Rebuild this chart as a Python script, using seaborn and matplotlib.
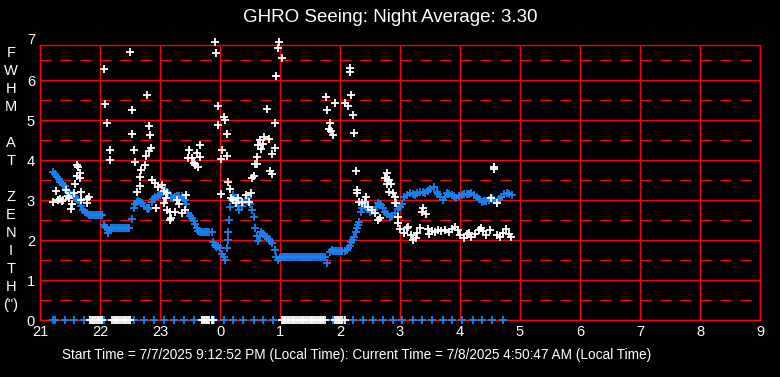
import numpy as np
import matplotlib
matplotlib.use('Agg')
import matplotlib.pyplot as plt
import seaborn as sns

# ──────────────────────────────────────────────
# Data (time = hours after 21:00 local, values = FWHM arcsec)
# ──────────────────────────────────────────────
TITLE = "GHRO Seeing: Night Average: 3.30"
FOOTER = ("Start Time = 7/7/2025 9:12:52 PM (Local Time): "
          "Current Time = 7/8/2025 4:50:47 AM (Local Time)")
hour_labels = ["21", "22", "23", "0", "1", "2", "3", "4", "5", "6", "7", "8", "9"]
ylabel_letters = ["F", "W", "H", "M", "", "A", "T", "", "Z", "E", "N", "I", "T", "H", '(")']

# running average (blue)
avg_t = [0.22, 0.25, 0.28, 0.31, 0.33, 0.36, 0.39, 0.42, 0.44, 0.47, 0.50, 0.53, 0.56, 0.58,
         0.61, 0.64, 0.67, 0.69, 0.72, 0.75, 0.78, 0.81,
         0.83, 0.86, 0.89, 0.92, 0.95, 0.98, 1.01, 1.03,
         1.06, 1.09, 1.11, 1.14, 1.17, 1.19,
         1.22, 1.25, 1.28, 1.31, 1.34, 1.37, 1.40, 1.43, 1.46, 1.49,
         1.53, 1.56, 1.58, 1.61, 1.64, 1.67, 1.70, 1.74, 1.78, 1.80, 1.82, 1.86, 1.89, 1.92,
         1.96, 2.00, 2.04, 2.08, 2.11, 2.14, 2.19, 2.22, 2.25, 2.28, 2.32, 2.36, 2.39, 2.42,
         2.44, 2.47, 2.50, 2.53, 2.56, 2.58, 2.61, 2.64,
         2.67, 2.70, 2.73, 2.76, 2.79, 2.82, 2.86,
         2.89, 2.92, 2.94, 2.97, 3.00, 3.03, 3.06, 3.08, 3.11, 3.13, 3.14, 3.15, 3.17, 3.20,
         3.22, 3.25, 3.28, 3.30, 3.32, 3.36, 3.39, 3.43, 3.47, 3.50, 3.53, 3.57, 3.58, 3.61,
         3.64, 3.67, 3.69, 3.72, 3.75, 3.78, 3.81, 3.83, 3.86, 3.91, 3.94, 3.97, 4.00,
         4.03, 4.06, 4.09, 4.12, 4.15, 4.18, 4.21, 4.24, 4.27, 4.30, 4.33, 4.36, 4.39,
         4.42, 4.45, 4.48, 4.51, 4.54, 4.57, 4.60, 4.63, 4.66, 4.69, 4.72, 4.75,
         4.78, 4.83, 4.86, 4.89, 4.92, 4.95, 4.98, 5.01, 5.04, 5.08,
         5.11, 5.14, 5.17, 5.19, 5.22, 5.24, 5.26, 5.28, 5.30, 5.32, 5.35, 5.37, 5.39, 5.42,
         5.44, 5.47, 5.50, 5.53, 5.57, 5.60, 5.64, 5.67, 5.69, 5.72, 5.75, 5.79, 5.83, 5.87,
         5.92, 5.96, 6.00, 6.03, 6.06, 6.11, 6.17, 6.21, 6.25, 6.29, 6.33, 6.38, 6.42, 6.46,
         6.50, 6.56, 6.61, 6.64, 6.67, 6.72, 6.75, 6.78, 6.82, 6.86, 6.90, 6.94, 6.98, 7.03,
         7.07, 7.11, 7.15, 7.19, 7.24, 7.28, 7.32, 7.36, 7.40, 7.44, 7.48, 7.53, 7.57, 7.61,
         7.65, 7.69, 7.74, 7.78, 7.82, 7.86]
avg_v = [3.71, 3.65, 3.58, 3.52, 3.46, 3.42, 3.38, 3.35, 3.25, 3.20, 3.15, 3.12, 3.08, 3.04,
         3.02, 3.00, 2.96, 2.85, 2.75, 2.70, 2.67, 2.63,
         2.62, 2.62, 2.62, 2.62, 2.62, 2.62, 2.62, 2.62,
         2.38, 2.33, 2.29, 2.18, 2.25, 2.29,
         2.29, 2.29, 2.29, 2.29, 2.29, 2.29, 2.29, 2.29, 2.29, 2.29,
         2.52, 2.79, 2.90, 2.96, 2.97, 2.96, 2.92, 2.85, 2.79, 2.77, 2.79, 2.96, 3.02, 3.08,
         3.10, 3.12, 3.19, 3.25, 3.21, 3.17, 3.04, 3.06, 3.08, 3.10, 3.11, 3.10, 3.05, 3.00,
         2.90, 2.68, 2.60, 2.55, 2.47, 2.40, 2.30, 2.22,
         2.20, 2.20, 2.20, 2.20, 2.20, 2.20, 2.20,
         1.96, 1.88, 1.83, 1.86, 1.80, 1.65, 1.58, 1.50, 1.79, 2.00, 2.21, 2.50, 2.83, 3.00,
         3.12, 3.05, 3.00, 2.85, 2.75, 2.85, 2.92, 3.00, 3.04, 2.90, 2.75, 2.57, 2.29, 2.10,
         1.98, 2.10, 2.19, 2.15, 2.10, 2.08, 2.03, 1.98, 1.92, 1.75, 1.58, 1.50, 1.55,
         1.57, 1.57, 1.57, 1.57, 1.57, 1.57, 1.57, 1.57, 1.57, 1.57, 1.57, 1.57, 1.57,
         1.57, 1.57, 1.57, 1.57, 1.57, 1.57, 1.57, 1.57, 1.57, 1.57, 1.57, 1.57,
         1.43, 1.71, 1.75, 1.72, 1.72, 1.72, 1.72, 1.72, 1.72, 1.72,
         1.76, 1.79, 1.86, 1.95, 2.00, 2.08, 2.20, 2.29, 2.38, 2.46, 2.71, 2.80, 2.87, 2.86,
         2.83, 2.77, 2.71, 2.72, 2.75, 2.83, 2.93, 2.90, 2.87, 2.80, 2.71, 2.64, 2.58, 2.60,
         2.68, 2.77, 2.83, 2.90, 3.08, 3.12, 3.17, 3.15, 3.12, 3.17, 3.21, 3.19, 3.17, 3.22,
         3.27, 3.33, 3.21, 3.14, 3.08, 3.00, 3.08, 3.17, 3.15, 3.12, 3.10, 3.06, 3.10, 3.12,
         3.14, 3.15, 3.16, 3.18, 3.12, 3.08, 3.02, 2.96, 2.97, 2.98, 3.00, 3.02, 3.00, 2.96,
         3.02, 3.08, 3.14, 3.17, 3.15, 3.12]

# individual readings (white)
raw_t = [0.22, 0.26, 0.30, 0.33, 0.36, 0.39, 0.44, 0.47, 0.49, 0.52, 0.54, 0.56, 0.59, 0.61,
         0.62, 0.64, 0.66, 0.67, 0.69, 0.69, 0.78, 0.78, 0.81,
         1.06, 1.09, 1.12, 1.16, 1.17, 1.50, 1.53, 1.54, 1.57, 1.59, 1.61, 1.66, 1.67, 1.69,
         1.75, 1.77, 1.79, 1.81, 1.82, 1.84, 1.85, 1.87, 1.92, 1.94, 1.97, 2.03, 2.06, 2.06,
         2.10, 2.11, 2.12, 2.17, 2.17, 2.19, 2.25, 2.28, 2.32, 2.36, 2.41, 2.43, 2.46, 2.49,
         2.53, 2.56, 2.58, 2.62, 2.64, 2.66, 2.67,
         2.92, 2.94, 2.96, 2.97, 3.01, 3.02, 3.04, 3.07, 3.09, 3.11, 3.12, 3.14, 3.16, 3.18,
         3.22, 3.26, 3.30, 3.36, 3.44, 3.49, 3.52, 3.54, 3.57, 3.58, 3.61, 3.62, 3.64, 3.66,
         3.69, 3.71, 3.74, 3.78, 3.82, 3.83, 3.86, 3.87, 3.91, 3.92, 3.94, 3.96, 3.99, 4.03,
         4.77, 4.79, 4.81, 4.83, 4.85, 4.89, 4.91, 5.09, 5.13, 5.16, 5.17, 5.19, 5.22, 5.24,
         5.26, 5.28, 5.29, 5.31, 5.36, 5.42, 5.43, 5.47, 5.53, 5.58, 5.64, 5.67,
         5.75, 5.78, 5.79, 5.81, 5.82, 5.85, 5.89, 5.92, 5.92, 5.94, 5.96, 5.97, 6.00, 6.06,
         6.11, 6.14, 6.18, 6.22, 6.26, 6.29, 6.33, 6.36, 6.39, 6.43, 6.46, 6.48, 6.53, 6.58,
         6.64, 6.69, 6.75, 6.81, 6.86, 6.92, 6.96, 7.00, 7.06, 7.11, 7.15, 7.19, 7.25, 7.31,
         7.35, 7.39, 7.44, 7.50, 7.52, 7.56, 7.57, 7.61, 7.61, 7.67, 7.72, 7.76, 7.81, 7.85]
raw_v = [2.94, 3.22, 3.00, 3.02, 2.98, 3.00, 3.24, 3.11, 3.04, 2.77, 2.91, 3.17, 3.39, 3.61,
         3.87, 3.82, 3.67, 3.54, 3.19, 3.00, 3.02, 2.92, 3.07,
         6.27, 5.39, 4.92, 4.24, 3.99, 6.69, 5.24, 4.64, 4.24, 3.94, 3.21, 3.35, 3.57, 3.75,
         3.87, 4.09, 5.62, 4.84, 4.23, 4.62, 4.29, 3.49, 3.42, 2.79, 3.33, 3.37, 3.23, 2.92,
         3.04, 3.17, 2.75, 2.71, 2.50, 2.54, 2.71, 3.00, 2.90, 2.68, 2.75, 3.12, 4.05, 4.24,
         4.06, 3.92, 3.87, 4.17, 3.82, 4.07, 4.37,
         6.94, 6.67, 5.34, 4.87, 4.02, 3.14, 4.25, 5.07, 5.00, 4.64, 4.09, 3.44, 3.28, 3.04,
         3.00, 2.92, 3.04, 2.96, 3.12, 2.96, 3.17, 3.56, 3.61, 3.89, 4.07, 3.89, 4.37, 4.49,
         4.27, 4.39, 4.58, 5.28, 4.52, 3.72, 3.64, 4.14, 4.29, 4.92, 6.10, 6.79, 6.94, 6.54,
         5.57, 5.24, 4.77, 4.92, 4.72, 4.62, 5.42, 5.43, 5.35, 6.20, 6.29, 5.62, 5.12, 4.67,
         3.72, 3.25, 3.17, 2.96, 2.92, 2.96, 3.07, 2.83, 2.75, 2.67, 2.50, 2.54,
         3.54, 3.40, 3.67, 3.50, 3.21, 3.39, 3.17, 3.08, 2.92, 2.92, 2.57, 2.42, 2.27, 2.17,
         2.29, 2.33, 2.12, 2.00, 2.04, 2.17, 2.29, 2.71, 2.79, 2.65, 2.27, 2.15, 2.22, 2.20,
         2.25, 2.23, 2.25, 2.20, 2.27, 2.33, 2.25, 2.12, 2.04, 2.15, 2.17, 2.07, 2.15, 2.25,
         2.29, 2.23, 2.12, 2.25, 3.04, 3.83, 3.77, 2.12, 2.92, 2.07, 2.17, 2.27, 2.15, 2.07]

# readings that came back as zero
avg_zero_t = [0.21, 0.25, 0.41, 0.57, 0.74, 0.90, 1.07, 1.24, 1.40, 1.57, 1.74, 1.90, 2.07,
              2.23, 2.40, 2.57, 2.73, 2.90, 3.06, 3.22, 3.39, 3.56, 3.72, 3.89, 4.05, 4.22,
              4.39, 4.55, 4.72, 4.88, 5.05, 5.22, 5.38, 5.55, 5.71, 5.88, 6.04, 6.21, 6.37,
              6.54, 6.71, 6.87, 7.04, 7.21, 7.37, 7.54, 7.71]
raw_zero_t = [0.83, 0.86, 0.89, 0.92, 0.95, 0.98, 1.01, 1.03,
              1.20, 1.23, 1.26, 1.29, 1.32, 1.35, 1.38, 1.41, 1.44, 1.47, 1.50,
              2.70, 2.73, 2.76, 2.79, 2.82, 2.86, 2.89,
              4.03, 4.06, 4.09, 4.12, 4.15, 4.18, 4.21, 4.24, 4.27, 4.30, 4.33, 4.36, 4.39,
              4.42, 4.45, 4.48, 4.51, 4.54, 4.57, 4.60, 4.63, 4.66, 4.69, 4.72, 4.75,
              4.92, 4.95, 4.98, 5.01, 5.04, 5.08]

# ──────────────────────────────────────────────
# Style
# ──────────────────────────────────────────────
sns.set_theme(style="dark", rc={"axes.facecolor": "black", "figure.facecolor": "black"})
plt.rcParams['font.family'] = ['Liberation Sans', 'DejaVu Sans']

RED = '#ff0000'
BLUE = '#1a82f0'
W, H = 780, 377

fig = plt.figure(figsize=(W / 100, H / 100), dpi=100, facecolor='black')
ax = fig.add_axes([40 / W, 57 / H, 720 / W, 275 / H])
ax.set_facecolor('black')

mk = dict(marker='+', s=27, linewidth=1.3, legend=False, clip_on=False, zorder=3)
sns.scatterplot(x=avg_zero_t, y=[0] * len(avg_zero_t), color=BLUE, ax=ax, **mk)
sns.scatterplot(x=raw_zero_t, y=[0] * len(raw_zero_t), color='white', ax=ax, **mk)
sns.scatterplot(x=avg_t, y=avg_v, color=BLUE, ax=ax, **mk)
sns.scatterplot(x=raw_t, y=raw_v, color='white', ax=ax, **mk)

ax.set_xlim(0, 12)
ax.set_ylim(0, 6.875)
ax.set_xticks(range(13))
ax.set_xticklabels(hour_labels)
ax.set_yticks(range(7))
ax.set_yticks(np.arange(0.5, 7, 1.0), minor=True)
ax.tick_params(axis='both', which='both', length=0, colors='white', labelsize=10.5)
ax.tick_params(axis='x', pad=3.5)
ax.tick_params(axis='y', pad=3.6)
ax.set_xlabel('')
ax.set_ylabel('')

ax.grid(True, which='major', color=RED, linewidth=1.0, linestyle='-')
ax.grid(True, which='minor', axis='y', color=RED, linewidth=1.0, linestyle=(0, (7.9, 6.5)))
ax.set_axisbelow(True)
for sp in ax.spines.values():
    sp.set_color(RED)
    sp.set_linewidth(1.0)
    sp.set_visible(True)

# "7" sits just above the top frame
ax.annotate('7', xy=(0, 7), xycoords=('axes fraction', 'data'), xytext=(-3.6, 0),
            textcoords='offset points', ha='right', va='center', color='white',
            fontsize=10.5, annotation_clip=False)

# stacked vertical axis label
for i, letter in enumerate(ylabel_letters):
    fig.text(11 / W, 1 - (53 + 18 * i) / H, letter, ha='center', va='center',
             color='white', fontsize=10.5)

fig.text(0.5, 1 - 18 / H, TITLE, ha='center', va='center', color='white', fontsize=13.5)
fig.text(62 / W, 1 - 355 / H, FOOTER, ha='left', va='center', color='white', fontsize=9.8)

fig.savefig('out.png', dpi=100, facecolor='black')
